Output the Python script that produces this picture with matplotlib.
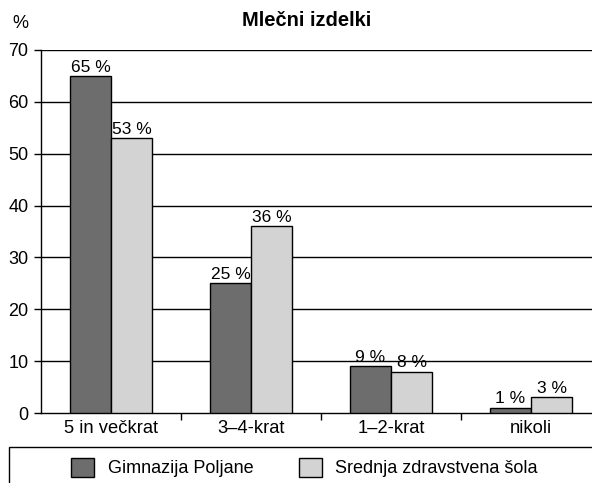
import matplotlib
matplotlib.use("Agg")
import matplotlib.pyplot as plt
from matplotlib.patches import Rectangle
import numpy as np

categories = ["5 in večkrat", "3–4-krat", "1–2-krat", "nikoli"]
gimnazija = [65, 25, 9, 1]
zdravstvena = [53, 36, 8, 3]
series_names = ["Gimnazija Poljane", "Srednja zdravstvena šola"]
yticks = [0, 10, 20, 30, 40, 50, 60, 70]

plt.rcParams['font.family'] = ['Liberation Sans', 'DejaVu Sans']

W, H = 592, 483
fig = plt.figure(figsize=(W / 100, H / 100), dpi=100)
ax = fig.add_axes([41 / W, 70 / H, 560 / W, 363 / H])

x = np.arange(len(categories))
bw = 0.293
dark = "#6d6d6d"
light = "#d3d3d3"
b1 = ax.bar(x - bw / 2, gimnazija, bw, color=dark, edgecolor="black", linewidth=1.0, zorder=3)
b2 = ax.bar(x + bw / 2, zdravstvena, bw, color=light, edgecolor="black", linewidth=1.0, zorder=3)
ax.bar_label(b1, labels=[f"{v} %" for v in gimnazija], padding=1, fontsize=12.5)
ax.bar_label(b2, labels=[f"{v} %" for v in zdravstvena], padding=1, fontsize=12.5)

ax.set_xlim(-0.5, 3.5)
ax.set_ylim(0, 70)
ax.set_yticks(yticks)
ax.tick_params(axis="y", direction="out", length=5, width=1, labelsize=13, pad=4, colors="black")
for yv in yticks[1:]:
    ax.axhline(yv, color="black", linewidth=1.0, zorder=1)

ax.set_xticks([0.5, 1.5, 2.5])
ax.set_xticklabels([])
ax.tick_params(axis="x", which="major", direction="out", length=5, width=1)
ax.set_xticks(x, minor=True)
ax.set_xticklabels(categories, minor=True)
ax.tick_params(axis="x", which="minor", length=0, labelsize=13.2, pad=5)

for s in ["top", "right"]:
    ax.spines[s].set_visible(False)
ax.spines["left"].set_linewidth(1.0)
ax.spines["bottom"].set_linewidth(1.0)

fig.text(307 / W, 1 - 21 / H, "Mlečni izdelki", ha="center", va="center", fontsize=14.5, fontweight="bold")
fig.text(20 / W, 1 - 23 / H, "%", ha="center", va="center", fontsize=13)

# legend box
fig.patches.append(Rectangle((9 / W, -0.05), 1.1, (483 - 447) / H + 0.05, transform=fig.transFigure,
                             fill=False, edgecolor="black", linewidth=1.0))
fig.legend([b1, b2], series_names, ncol=2, frameon=False, fontsize=13,
           loc="center", bbox_to_anchor=(304.5 / W, 1 - 467.5 / H),
           handlelength=1.27, handleheight=1.22, columnspacing=2.5, handletextpad=0.75,
           borderpad=0, borderaxespad=0)

fig.savefig("out.png", dpi=100)
